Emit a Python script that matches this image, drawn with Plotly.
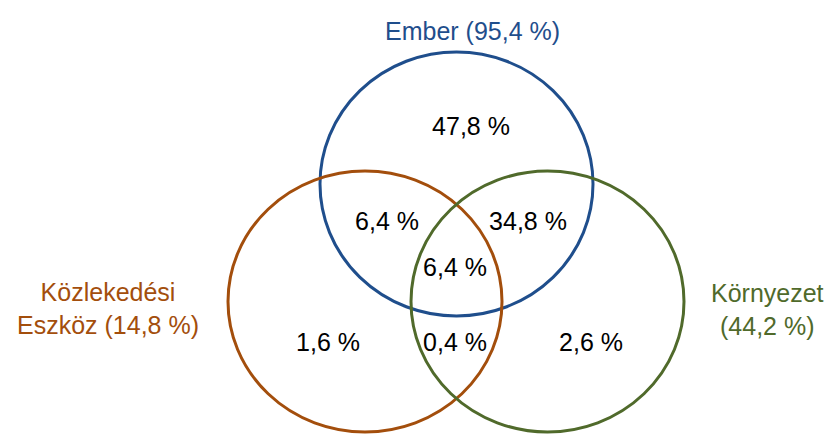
import plotly.graph_objects as go

# Data
set_names = ["Ember (95,4 %)", "Közlekedési<br>Eszköz (14,8 %)", "Környezet<br>(44,2 %)"]
region_labels = ["Ember only", "Ember ∩ Eszköz", "Ember ∩ Környezet", "All three",
                 "Eszköz only", "Eszköz ∩ Környezet", "Környezet only"]
region_values = [47.8, 6.4, 34.8, 6.4, 1.6, 0.4, 2.6]

# Layout (pixel-like coordinates)
W, H = 831, 434
circle_colors = ["#1f4e8c", "#a34e0c", "#506a2b"]
circles = [  # cx, cy, rx, ry
    (456.5, 184, 136.5, 132),
    (365, 301.5, 137, 130.5),
    (547.5, 301.5, 136.5, 130.5),
]
region_pos = [(471, 129), (387, 224), (528, 224), (455, 270),
              (328, 345), (455, 345), (591, 345)]
name_pos = [(472, 31), (108, 308), (767, 309)]

def fmt(v):
    return f"{v:.1f}".replace(".", ",") + " %"

fig = go.Figure()
fig.add_trace(go.Scatter(
    x=[p[0] for p in region_pos], y=[p[1] for p in region_pos],
    mode="text", text=[fmt(v) for v in region_values],
    textfont=dict(family="Liberation Sans, Arial", size=25, color="#000000"),
    hovertext=region_labels, showlegend=False))

for (cx, cy, rx, ry), col in zip(circles, circle_colors):
    fig.add_shape(type="circle", xref="x", yref="y",
                  x0=cx - rx, x1=cx + rx, y0=cy - ry, y1=cy + ry,
                  line=dict(color=col, width=3), fillcolor="rgba(0,0,0,0)")

for name, (x, y), col in zip(set_names, name_pos, circle_colors):
    fig.add_annotation(x=x, y=y, xref="x", yref="y", text=name, showarrow=False,
                       font=dict(family="Liberation Sans, Arial", size=25, color=col),
                       align="center")

fig.update_xaxes(range=[0, W], visible=False, fixedrange=True)
fig.update_yaxes(range=[H, 0], visible=False, fixedrange=True)
fig.update_layout(width=W, height=H, margin=dict(l=0, r=0, t=0, b=0),
                  plot_bgcolor="white", paper_bgcolor="white")
fig.write_html("out.html")
